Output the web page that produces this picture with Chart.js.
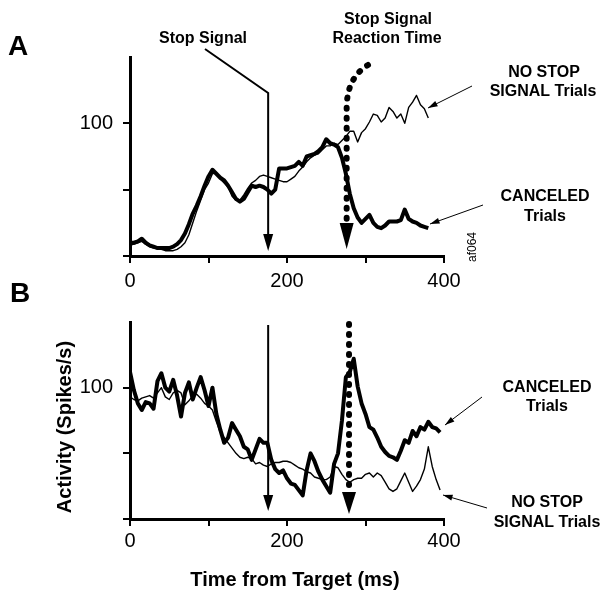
<!DOCTYPE html>
<html>
<head>
<meta charset="utf-8">
<script src="https://cdn.jsdelivr.net/npm/chart.js@4.4.1/dist/chart.umd.min.js"></script>
<style>
  body { margin: 0; background: #fff; }
  #wrap { position: relative; width: 604px; height: 599px; overflow: hidden; background: #fff; }
  canvas { position: absolute; left: 0; }
  #chartA { top: 0; }
  #chartB { top: 270px; }
</style>
</head>
<body>
<div id="wrap">
  <canvas id="chartA" width="604" height="300"></canvas>
  <canvas id="chartB" width="604" height="329"></canvas>
</div>
<script>
// panel A: time from target (ms) and activity (spikes/s)
const timesA = [0, 5, 10, 15, 20, 25, 30, 35, 40, 45,
  50, 55, 60, 65, 70, 75, 80, 85, 90, 95,
  100, 105, 110, 115, 120, 125, 130, 135, 140, 145,
  150, 155, 160, 165, 170, 175, 180, 185, 190, 195,
  200, 205, 210, 215, 220, 225, 230, 235, 240, 245,
  250, 255, 260, 265, 270, 275, 280, 285, 290, 295,
  300, 305, 310, 315, 320, 325, 330, 335, 340, 345,
  350, 355, 360, 365, 370, 375, 380];
const canceledA = [10, 10, 11, 13, 10, 8, 7, 6, 6, 6,
  6, 7, 9, 12, 17, 24, 32, 38, 45, 53,
  60, 65, 62, 59, 57, 53, 48, 43, 41, 43,
  48, 53, 52, 53, 52, 50, 47, 50, 66, 66,
  66, 67, 68, 71, 68, 75, 76, 77, 79, 82,
  88, 85, 84, 82, 74, 62, 47, 36, 29, 25,
  28, 31, 25, 22, 21, 23, 26, 26, 26, 27,
  35, 28, 26, 25, 23, 22, 21];
const noStopA = [8, 9, 10, 11, 9, 7, 6, 6, 5, 4,
  4, 4, 5, 7, 10, 16, 25, 34, 42, 50,
  55, 62, 63, 58, 55, 52, 45, 42, 42, 46,
  51, 55, 57, 60, 61, 60, 59, 58, 57, 56,
  56, 58, 60, 64, 67, 71, 74, 76, 77, 80,
  83, 83, 85, 84, 87, 90, 94, 94, 86, 93,
  96, 101, 107, 106, 101, 104, 112, 109, 104, 107,
  100, 112, 116, 121, 114, 111, 104];

// panel B
const timesB = [0, 5, 10, 15, 20, 25, 30, 35, 40, 45,
  50, 55, 60, 65, 70, 75, 80, 85, 90, 95,
  100, 105, 110, 115, 120, 125, 130, 135, 140, 145,
  150, 155, 160, 165, 170, 175, 180, 185, 190, 195,
  200, 205, 210, 215, 220, 225, 230, 235, 240, 245,
  250, 255, 260, 265, 270, 275, 280, 285, 290, 295,
  300, 305, 310, 315, 320, 325, 330, 335, 340, 345,
  350, 355, 360, 365, 370, 375, 380, 385, 390, 395];
const canceledB = [112, 98, 88, 83, 89, 88, 84, 105, 111, 100,
  97, 106, 94, 78, 96, 104, 91, 100, 108, 98,
  86, 100, 80, 68, 58, 62, 73, 68, 63, 55,
  53, 45, 53, 61, 58, 58, 45, 38, 35, 37,
  31, 27, 26, 22, 18, 37, 50, 44, 36, 30,
  25, 20, 42, 50, 75, 108, 112, 122, 101, 88,
  80, 70, 68, 62, 55, 51, 48, 47, 45, 52,
  60, 58, 67, 63, 70, 68, 74, 70, 69, 66];
const noStopB = [93, 91, 90, 92, 93, 94, 92, 96, 100, 93,
  91, 96, 98, 96, 87, 90, 94, 95, 92, 88,
  86, 83, 74, 66, 62, 58, 54, 50, 47, 46,
  47, 46, 42, 43, 41, 40, 42, 43, 43, 44,
  44, 43, 41, 39, 38, 36, 35, 32, 31, 30,
  30, 32, 40, 39, 34, 30, 28, 30, 31, 31,
  34, 35, 32, 35, 33, 28, 23, 21, 23, 29,
  35, 28, 21, 25, 30, 38, 55, 40, 30, 22];

const xTickLabels = [0, 200, 400];
const yTickLabels = [100];
const stopSignalTime = 176;
const ssrtA = 276;
const ssrtB = 279;

const FONT = "'Liberation Sans', Arial, Helvetica, sans-serif";

const points = (xs, ys) => ys.map((v, i) => ({ x: xs[i], y: v }));

function label(c, str, x, y, size, bold, maxW) {
  c.font = (bold ? 'bold ' : '') + size + 'px ' + FONT;
  c.textAlign = 'center';
  c.textBaseline = 'middle';
  if (maxW) c.fillText(str, x, y, maxW);
  else c.fillText(str, x, y);
}

function head(c, x, yTop, yTip, half) {
  c.beginPath();
  c.moveTo(x - half, yTop);
  c.lineTo(x + half, yTop);
  c.lineTo(x, yTip);
  c.closePath();
  c.fill();
}

function pointer(c, x1, y1, x2, y2) {
  c.lineWidth = 1;
  c.beginPath();
  c.moveTo(x1, y1);
  c.lineTo(x2, y2);
  c.stroke();
  const a = Math.atan2(y2 - y1, x2 - x1);
  const len = 10, w = 0.3;
  c.beginPath();
  c.moveTo(x2 - len * Math.cos(a - w), y2 - len * Math.sin(a - w));
  c.lineTo(x2, y2);
  c.lineTo(x2 - len * Math.cos(a + w), y2 - len * Math.sin(a + w));
  c.closePath();
  c.fill();
}

function dotted(c, path) {
  c.save();
  c.lineWidth = 6;
  c.lineCap = 'round';
  c.setLineDash([1, 9]);
  c.beginPath();
  path();
  c.stroke();
  c.restore();
}

const annotA = {
  id: 'annotA',
  afterDraw(chart) {
    const c = chart.ctx;
    const xs = chart.scales.x;
    const sx = xs.getPixelForValue(stopSignalTime);
    const rx = xs.getPixelForValue(ssrtA);
    c.save();
    c.fillStyle = '#000';
    c.strokeStyle = '#000';
    label(c, 'A', 18, 47, 28, true);

    label(c, 'Stop Signal', 203, 39, 16, true);
    c.lineWidth = 2;
    c.beginPath();
    c.moveTo(205, 49);
    c.lineTo(sx, 93);
    c.lineTo(sx, 236);
    c.stroke();
    head(c, sx, 234, 251, 5);

    label(c, 'Stop Signal', 388, 20, 16, true);
    label(c, 'Reaction Time', 387, 39, 16, true);
    dotted(c, () => {
      c.moveTo(368, 65);
      c.quadraticCurveTo(rx, 78, rx, 108);
      c.lineTo(rx, 222);
    });
    head(c, rx, 223, 249, 7);

    label(c, 'NO STOP', 544, 73, 16, true);
    label(c, 'SIGNAL Trials', 543, 92, 16, true, 112);
    pointer(c, 472, 86, 428, 108);

    label(c, 'CANCELED', 545, 197, 16, true);
    label(c, 'Trials', 545, 217, 16, true);
    pointer(c, 483, 205, 430, 224);

    c.save();
    c.translate(473, 247);
    c.rotate(-Math.PI / 2);
    label(c, 'af064', 0, 0, 12, false);
    c.restore();
    c.restore();
  }
};

const annotB = {
  id: 'annotB',
  afterDraw(chart) {
    const c = chart.ctx;
    const xs = chart.scales.x;
    const sx = xs.getPixelForValue(stopSignalTime);
    const rx = xs.getPixelForValue(ssrtB);
    c.save();
    c.fillStyle = '#000';
    c.strokeStyle = '#000';
    label(c, 'B', 20, 24, 28, true);

    c.lineWidth = 2;
    c.beginPath();
    c.moveTo(sx, 55);
    c.lineTo(sx, 227);
    c.stroke();
    head(c, sx, 225, 241, 5);

    dotted(c, () => {
      c.moveTo(rx, 54);
      c.lineTo(rx, 220);
    });
    head(c, rx, 222, 244, 7);

    label(c, 'CANCELED', 547, 118, 16, true);
    label(c, 'Trials', 547, 137, 16, true);
    pointer(c, 482, 127, 445, 155);

    label(c, 'NO STOP', 547, 233, 16, true);
    label(c, 'SIGNAL Trials', 547, 253, 16, true, 112);
    pointer(c, 487, 238, 443, 225);

    c.save();
    c.translate(65, 157);
    c.rotate(-Math.PI / 2);
    label(c, 'Activity (Spikes/s)', 0, 0, 20, true);
    c.restore();
    label(c, 'Time from Target (ms)', 295, 310, 20, true);
    c.restore();
  }
};

function makeOptions(padTop, padBottom, xLabelPad) {
  return {
    responsive: false,
    animation: false,
    events: [],
    layout: { padding: { left: 0, right: 160, top: padTop, bottom: padBottom } },
    plugins: { legend: { display: false }, tooltip: { enabled: false } },
    scales: {
      x: {
        type: 'linear',
        min: 0,
        max: 400,
        afterFit: s => { s.height = 34; },
        border: { display: true, color: '#000', width: 3 },
        grid: { drawOnChartArea: false, drawTicks: true, tickLength: 7, color: '#000', lineWidth: 2 },
        ticks: {
          stepSize: 100, autoSkip: false, maxRotation: 0, padding: xLabelPad,
          color: '#000', font: { family: FONT, size: 20 },
          callback: v => xTickLabels.includes(v) ? String(v) : ''
        }
      },
      y: {
        min: 0,
        max: 150,
        afterFit: s => { s.width = 130; },
        border: { display: true, color: '#000', width: 3 },
        grid: {
          drawOnChartArea: false, drawTicks: true, tickLength: 7, lineWidth: 2,
          color: ctx => (ctx.tick && ctx.tick.value === 150) ? 'rgba(0,0,0,0)' : '#000'
        },
        ticks: {
          stepSize: 50, padding: 10, color: '#000', font: { family: FONT, size: 20 },
          callback: v => yTickLabels.includes(v) ? String(v) : ''
        }
      }
    }
  };
}

function lineSet(xs, ys, width) {
  return {
    data: points(xs, ys),
    borderColor: '#000',
    borderWidth: width,
    pointRadius: 0,
    tension: 0,
    borderJoinStyle: 'round',
    fill: false
  };
}

new Chart(document.getElementById('chartA'), {
  type: 'line',
  data: { datasets: [lineSet(timesA, canceledA, 4), lineSet(timesA, noStopA, 1.4)] },
  options: makeOptions(57, 10, 6),
  plugins: [annotA]
});

new Chart(document.getElementById('chartB'), {
  type: 'line',
  data: { datasets: [lineSet(timesB, canceledB, 4), lineSet(timesB, noStopB, 1.4)] },
  options: makeOptions(52, 46, 3),
  plugins: [annotB]
});
</script>
</body>
</html>
